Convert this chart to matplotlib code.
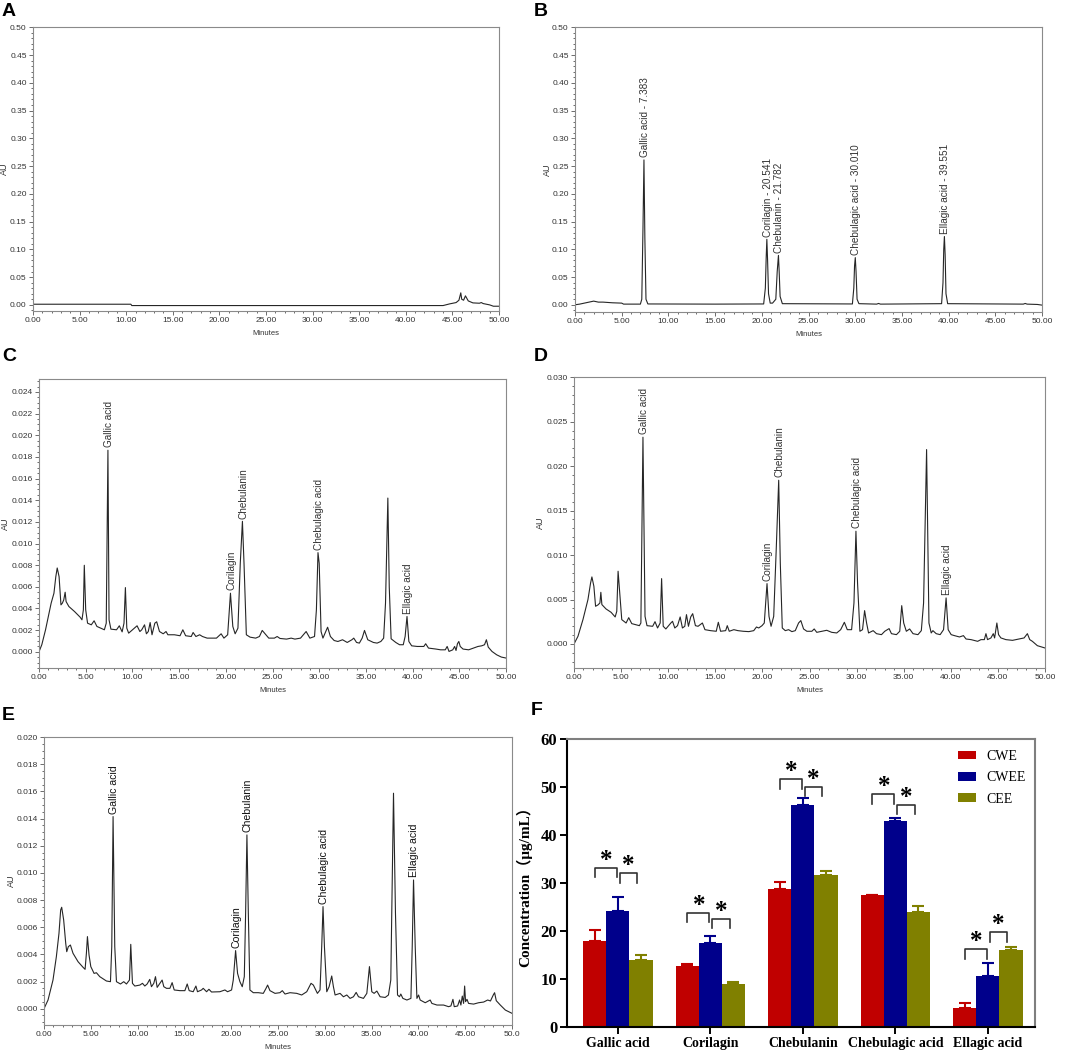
import matplotlib
matplotlib.use("Agg")
import matplotlib.pyplot as plt
from matplotlib.ticker import MultipleLocator, FormatStrFormatter
import numpy as np

plt.rcParams['font.family'] = ['Liberation Sans', 'DejaVu Sans']

# ---- HPLC traces: (minutes, mAU)
blank_trace = [(0, 1.2), (10.5, 1.2), (10.6, -1.2), (44.0, -1.2), (44.7, 1.8), (45.4, 4.2),
               (45.7, 8.4), (45.9, 21.7), (46.0, 10.2), (46.2, 8.4), (46.4, 16.3), (46.7, 7.2),
               (47.2, 3.6), (47.9, 3.0), (48.1, 4.2), (48.3, 2.4), (49.0, 0.0), (49.4, -2.4),
               (50.0, -2.4)]

std_trace = [(0, 0), (0.5, 1.2), (1.5, 4.8), (2.0, 6.6), (2.5, 4.8), (3.0, 4.8), (4.0, 3.6),
             (5.0, 3.0), (5.2, 1.2), (7.0, 1.2), (7.15, 10), (7.28, 140), (7.383, 261),
             (7.48, 120), (7.6, 10), (7.8, 1.5), (15.0, 1.2), (20.2, 1.5), (20.38, 30),
             (20.47, 85), (20.541, 118), (20.62, 80), (20.72, 20), (20.9, 3), (21.15, 3),
             (21.5, 10), (21.65, 60), (21.782, 89), (21.86, 60), (21.96, 15), (22.2, 2),
             (29.7, 1.5), (29.85, 30), (29.93, 70), (30.01, 85), (30.09, 60), (30.2, 10),
             (30.4, 2), (32.3, 1.2), (32.5, 2.4), (32.7, 1.2), (39.25, 2), (39.4, 40),
             (39.48, 100), (39.551, 123), (39.63, 90), (39.72, 20), (39.9, 2), (48.0, 1.2),
             (48.2, 2.4), (48.4, 1.2), (49.5, 0.6), (50.0, -0.6)]

cwe_trace = [(0, 0), (0.3, 0.65), (0.7, 2.03), (1.0, 3.26), (1.3, 4.49), (1.6, 5.41), (1.8, 6.94),
             (1.95, 7.74), (2.15, 6.94), (2.35, 4.33), (2.5, 4.49), (2.65, 4.79), (2.8, 5.50),
             (2.9, 4.64), (3.2, 4.18), (3.8, 3.72), (4.4, 3.20), (4.6, 2.95), (4.75, 3.87),
             (4.85, 7.99), (5.0, 3.87), (5.2, 2.64), (5.6, 2.49), (5.9, 2.86), (6.2, 2.34),
             (7.0, 2.03), (7.2, 2.64), (7.38, 18.62), (7.5, 2.95), (7.7, 2.09), (8.3, 2.03),
             (8.6, 2.40), (8.9, 1.84), (9.1, 2.64), (9.25, 5.93), (9.4, 2.18), (9.6, 1.72),
             (10.2, 2.18), (10.5, 2.40), (10.8, 1.87), (11.0, 2.03), (11.3, 2.49), (11.5, 1.66),
             (11.7, 1.87), (11.9, 2.70), (12.1, 1.57), (12.4, 2.64), (12.6, 2.77), (12.9, 1.87),
             (13.3, 1.66), (13.6, 1.87), (13.8, 1.57), (14.5, 1.57), (15.1, 1.48), (15.4, 2.03),
             (15.7, 1.48), (16.3, 1.41), (16.5, 1.78), (16.8, 1.41), (17.2, 1.57), (17.5, 1.41),
             (18.0, 1.26), (19.0, 1.26), (19.5, 1.66), (19.8, 1.26), (20.2, 1.57), (20.5, 5.41),
             (20.75, 2.34), (21.0, 1.66), (21.3, 2.18), (21.55, 8.17), (21.78, 12.05),
             (21.95, 8.17), (22.2, 1.57), (22.6, 1.35), (23.2, 1.26), (23.6, 1.41), (23.9, 1.97),
             (24.2, 1.66), (24.6, 1.26), (25.2, 1.26), (25.5, 1.41), (25.8, 1.23), (26.5, 1.17),
             (27.0, 1.26), (27.4, 1.17), (28.0, 1.26), (28.6, 1.87), (29.0, 1.26), (29.5, 1.41),
             (29.7, 3.87), (29.87, 9.16), (30.0, 8.17), (30.2, 1.87), (30.4, 1.26), (30.7, 1.87),
             (30.9, 2.27), (31.2, 1.41), (31.6, 1.04), (32.0, 0.95), (32.5, 1.11), (33.0, 0.86),
             (33.5, 1.11), (33.7, 1.26), (34.0, 0.86), (34.3, 0.80), (34.6, 1.26), (34.85, 1.97),
             (35.2, 1.11), (35.8, 0.86), (36.2, 0.80), (36.6, 0.95), (36.9, 1.26), (37.1, 4.49),
             (37.35, 14.20), (37.5, 6.0), (37.7, 1.2), (38.2, 0.86), (38.6, 0.65), (39.0, 0.65),
             (39.2, 1.41), (39.4, 3.26), (39.6, 0.95), (39.9, 0.55), (40.5, 0.49), (41.2, 0.49),
             (41.4, 0.74), (41.7, 0.34), (42.5, 0.25), (43.0, 0.18), (43.5, 0.18), (43.7, 0.49),
             (43.9, 0.03), (44.3, 0.18), (44.5, 0.49), (44.65, 0.12), (44.8, 0.74), (44.95, 0.95),
             (45.1, 0.49), (45.4, 0.25), (46.0, 0.18), (46.5, 0.34), (47.0, 0.49), (47.4, 0.55),
             (47.7, 0.65), (47.9, 1.11), (48.1, 0.43), (48.5, 0.03), (49.0, -0.28), (49.5, -0.49),
             (50.0, -0.58)]

cwee_trace = [(0, 0), (0.42, 0.86), (0.95, 2.74), (1.48, 4.99), (1.76, 6.86), (1.9, 7.54),
              (2.11, 6.49), (2.29, 4.24), (2.54, 4.39), (2.75, 4.61), (2.85, 5.81), (2.96, 4.43),
              (3.4, 3.94), (3.94, 3.56), (4.37, 3.04), (4.54, 3.67), (4.68, 8.18), (4.86, 5.74),
              (5.07, 2.74), (5.53, 2.36), (5.81, 2.96), (6.13, 2.29), (6.94, 2.06), (7.1, 2.36),
              (7.32, 23.25), (7.54, 3.11), (7.75, 2.06), (8.35, 1.99), (8.6, 2.51), (8.87, 1.80),
              (9.15, 2.36), (9.3, 7.35), (9.47, 1.99), (9.75, 1.69), (10.28, 2.36), (10.46, 2.55),
              (10.7, 1.80), (10.99, 2.06), (11.27, 3.04), (11.51, 1.80), (11.76, 1.99),
              (11.94, 3.30), (12.15, 1.99), (12.39, 3.04), (12.6, 3.41), (12.89, 2.06),
              (13.17, 1.99), (13.63, 2.36), (13.9, 1.61), (14.5, 1.50), (15.1, 1.43), (15.32, 2.44),
              (15.56, 1.43), (16.1, 1.50), (16.27, 2.06), (16.48, 1.43), (16.97, 1.61), (17.4, 1.50),
              (17.96, 1.43), (18.56, 1.39), (19.08, 1.50), (19.37, 1.91), (19.61, 1.80),
              (19.96, 2.06), (20.2, 2.36), (20.49, 6.79), (20.7, 3.11), (20.92, 1.99), (21.2, 3.11),
              (21.48, 10.99), (21.73, 18.41), (21.9, 9.11), (22.11, 1.80), (22.43, 1.50),
              (22.78, 1.61), (23.13, 1.39), (23.49, 1.50), (23.84, 2.36), (24.08, 2.63),
              (24.37, 1.69), (24.72, 1.43), (25.25, 1.43), (25.5, 1.69), (25.77, 1.31), (26.3, 1.43),
              (26.83, 1.54), (27.36, 1.31), (27.89, 1.24), (28.31, 1.61), (28.7, 2.44), (29.01, 1.61),
              (29.47, 1.61), (29.72, 4.61), (29.93, 12.68), (30.1, 6.86), (30.35, 1.43),
              (30.63, 1.61), (30.85, 3.75), (31.06, 2.36), (31.27, 1.24), (31.76, 1.50),
              (32.11, 1.16), (32.64, 1.05), (32.99, 1.43), (33.45, 1.73), (33.7, 1.16), (34.23, 1.05),
              (34.58, 1.43), (34.79, 4.31), (35.0, 2.36), (35.28, 1.43), (35.63, 1.69), (35.99, 1.16),
              (36.51, 1.05), (36.87, 1.50), (37.11, 4.61), (37.43, 21.86), (37.68, 2.36),
              (37.92, 1.24), (38.1, 1.50), (38.45, 1.16), (38.87, 1.05), (39.23, 1.61), (39.5, 5.18),
              (39.72, 1.61), (40.04, 1.05), (40.39, 0.94), (40.92, 0.79), (41.34, 0.94),
              (41.62, 0.56), (42.15, 0.49), (42.85, 0.30), (43.2, 0.49), (43.56, 0.49), (43.73, 1.16),
              (43.9, 0.49), (44.26, 0.68), (44.51, 1.16), (44.65, 0.68), (44.89, 2.36), (45.07, 1.05),
              (45.32, 0.68), (45.85, 0.49), (46.55, 0.41), (47.25, 0.56), (47.78, 0.68),
              (48.13, 1.16), (48.38, 0.49), (48.66, 0.30), (49.19, -0.19), (50.0, -0.45)]

cee_trace = [(0, 0), (0.43, 0.64), (0.96, 2.11), (1.32, 3.83), (1.6, 5.55), (1.78, 7.27),
             (1.89, 7.47), (2.1, 6.54), (2.32, 4.82), (2.43, 4.20), (2.6, 4.57), (2.82, 4.69),
             (3.1, 4.08), (3.64, 3.46), (4.17, 3.05), (4.39, 2.90), (4.53, 4.08), (4.64, 5.31),
             (4.81, 3.96), (5.0, 3.10), (5.35, 2.60), (5.6, 2.65), (5.96, 2.36), (6.67, 2.04),
             (7.1, 1.99), (7.24, 4.57), (7.38, 14.15), (7.56, 4.57), (7.74, 1.99), (8.17, 1.82),
             (8.52, 1.99), (8.81, 1.82), (9.13, 2.11), (9.27, 4.74), (9.45, 1.87), (9.7, 1.67),
             (10.24, 1.74), (10.52, 1.87), (10.77, 1.67), (11.02, 1.82), (11.3, 2.16), (11.48, 1.62),
             (11.73, 1.87), (11.91, 2.36), (12.09, 1.57), (12.38, 1.87), (12.62, 2.11), (12.8, 1.62),
             (13.09, 1.50), (13.45, 1.50), (13.69, 1.92), (13.91, 1.38), (14.52, 1.33),
             (15.05, 1.33), (15.3, 1.82), (15.51, 1.33), (15.94, 1.25), (16.23, 1.67), (16.4, 1.25),
             (16.83, 1.38), (17.01, 1.50), (17.37, 1.25), (17.62, 1.43), (17.9, 1.23), (18.79, 1.25),
             (19.33, 1.38), (19.61, 1.25), (20.04, 1.38), (20.22, 2.11), (20.47, 4.28),
             (20.68, 2.60), (20.93, 1.99), (21.18, 1.62), (21.4, 2.36), (21.54, 7.03),
             (21.68, 12.80), (21.83, 7.03), (22.0, 1.38), (22.36, 1.18), (22.9, 1.18), (23.43, 1.13),
             (23.72, 1.50), (23.89, 1.74), (24.14, 1.33), (24.68, 1.13), (25.21, 1.18),
             (25.46, 1.33), (25.75, 1.08), (26.28, 1.18), (27.0, 1.13), (27.53, 1.01), (28.07, 1.25),
             (28.53, 1.87), (28.78, 1.74), (29.21, 1.13), (29.49, 1.38), (29.67, 4.57),
             (29.81, 7.52), (29.96, 4.57), (30.21, 1.25), (30.46, 1.62), (30.74, 2.41),
             (30.92, 1.62), (31.1, 1.01), (31.63, 1.13), (31.99, 0.88), (32.35, 1.01), (32.7, 0.76),
             (33.06, 0.88), (33.35, 1.20), (33.6, 0.88), (34.13, 0.76), (34.49, 1.13), (34.77, 3.10),
             (35.02, 1.25), (35.27, 1.13), (35.56, 1.30), (35.91, 0.88), (36.45, 0.83), (36.8, 1.01),
             (37.05, 2.11), (37.34, 15.87), (37.55, 7.03), (37.77, 1.01), (37.98, 0.88),
             (38.12, 1.08), (38.34, 0.76), (38.77, 0.64), (39.2, 0.76), (39.34, 4.57), (39.48, 9.48),
             (39.66, 4.57), (39.84, 0.76), (40.02, 1.01), (40.19, 0.64), (40.73, 0.44),
             (41.26, 0.64), (41.44, 0.39), (41.98, 0.27), (42.69, 0.27), (43.22, 0.15),
             (43.47, 0.20), (43.69, 0.69), (43.83, 0.15), (44.19, 0.20), (44.4, 0.64), (44.54, 0.27),
             (44.69, 0.93), (44.83, 0.39), (44.94, 1.67), (45.04, 0.52), (45.19, 0.69),
             (45.36, 0.39), (45.9, 0.34), (46.43, 0.44), (46.97, 0.49), (47.4, 0.64), (47.7, 0.57),
             (48.0, 1.01), (48.14, 1.18), (48.32, 0.59), (48.75, 0.27), (49.29, -0.10),
             (50.0, -0.34)]

# peak labels: (text, retention time, apex mAU)
std_peaks = [("Gallic acid - 7.383", 7.383, 261), ("Corilagin - 20.541", 20.541, 118),
             ("Chebulanin - 21.782", 21.782, 89), ("Chebulagic acid - 30.010", 30.01, 85),
             ("Ellagic acid - 39.551", 39.551, 123)]
cwe_peaks = [("Gallic acid", 7.38, 18.62), ("Corilagin", 20.5, 5.41), ("Chebulanin", 21.78, 12.05),
             ("Chebulagic acid", 29.87, 9.16), ("Ellagic acid", 39.4, 3.26)]
cwee_peaks = [("Gallic acid", 7.32, 23.25), ("Corilagin", 20.49, 6.79), ("Chebulanin", 21.73, 18.41),
              ("Chebulagic acid", 29.93, 12.68), ("Ellagic acid", 39.5, 5.18)]
cee_peaks = [("Gallic acid", 7.38, 14.15), ("Corilagin", 20.47, 4.28), ("Chebulanin", 21.68, 12.8),
             ("Chebulagic acid", 29.81, 7.52), ("Ellagic acid", 39.48, 9.48)]

# ---- content of the five compounds (ug/mL), mean and SD
compounds = ['Gallic acid', 'Corilagin', 'Chebulanin', 'Chebulagic acid', 'Ellagic acid']
cwe = [17.9, 12.7, 28.8, 27.4, 3.9]
cwe_sd = [2.4, 0.4, 1.4, 0.2, 1.1]
cwee = [24.2, 17.5, 46.2, 42.9, 10.7]
cwee_sd = [2.9, 1.4, 1.5, 0.7, 2.7]
cee = [13.9, 9.05, 31.7, 24.0, 16.0]
cee_sd = [1.1, 0.25, 0.9, 1.3, 0.7]
# heights of the significance brackets (CWE-CWEE, CWEE-CEE)
bracket_left = [33.2, 23.8, 51.6, 48.5, 16.2]
bracket_right = [32.0, 22.6, 50.1, 46.3, 19.8]

W, H = 1065, 1053
fig = plt.figure(figsize=(W / 100, H / 100), dpi=100)


def px_axes(left, top, right, bottom):
    return fig.add_axes([left / W, 1 - bottom / H, (right - left) / W, (bottom - top) / H])


def panel_letter(x, y, s):
    fig.text(x / W, 1 - y / H, s, fontsize=14, fontweight='bold', ha='left', va='top')


def chromatogram(ax, trace, ylim, ymajor, yminor, yfmt, peaks, au_x, lab_size=7.2,
                 lab_color='#333333', last_tick=None):
    t = [p[0] for p in trace]
    au = [p[1] / 1000 for p in trace]
    ax.plot(t, au, color='#262626', lw=0.8)
    ax.set_xlim(0, 50)
    ax.set_ylim(*ylim)
    ax.xaxis.set_major_locator(MultipleLocator(5))
    ax.xaxis.set_minor_locator(MultipleLocator(1))
    ax.xaxis.set_major_formatter(FormatStrFormatter('%.2f'))
    ax.yaxis.set_major_locator(MultipleLocator(ymajor))
    ax.yaxis.set_minor_locator(MultipleLocator(yminor))
    ax.yaxis.set_major_formatter(FormatStrFormatter(yfmt))
    ax.tick_params(which='both', direction='out', colors='#555555', labelcolor='#333333',
                   labelsize=6, width=0.6, pad=1.5)
    ax.tick_params(which='major', length=3)
    ax.tick_params(which='minor', length=1.6)
    for sp in ax.spines.values():
        sp.set_color('#8a8a8a')
        sp.set_linewidth(0.8)
    ax.set_xlabel('Minutes', fontsize=5.5, color='#333333', labelpad=4)
    ax.set_ylabel('AU', fontsize=6.5, color='#333333')
    # the label anchor is its right-hand edge once rotated
    box = ax.get_position()
    ax.yaxis.set_label_coords((au_x / W - box.x0) / box.width, 0.5)
    for name, rt, h in peaks:
        ax.annotate(name, (rt, h / 1000), xytext=(0.5, 2), textcoords='offset points',
                    rotation=90, ha='center', va='bottom', fontsize=lab_size, color=lab_color)
    if last_tick:
        labels = ['%.2f' % v for v in np.arange(0, 50, 5)] + [last_tick]
        ax.set_xticks(np.arange(0, 51, 5))
        ax.set_xticklabels(labels)


axA = px_axes(33, 27, 499, 311)
chromatogram(axA, blank_trace, (-0.011, 0.5005), 0.05, 0.01, '%.2f', [], au_x=9)
axB = px_axes(575, 27, 1042, 312)
chromatogram(axB, std_trace, (-0.013, 0.5005), 0.05, 0.01, '%.2f', std_peaks, au_x=552)
axC = px_axes(39, 379, 506, 668)
chromatogram(axC, cwe_trace, (-0.0015, 0.0252), 0.002, 0.0005, '%.3f', cwe_peaks, au_x=10)
axD = px_axes(574, 377, 1045, 668)
chromatogram(axD, cwee_trace, (-0.0027, 0.03002), 0.005, 0.001, '%.3f', cwee_peaks, au_x=545)
axE = px_axes(44, 737, 512, 1025)
chromatogram(axE, cee_trace, (-0.0012, 0.02001), 0.002, 0.0005, '%.3f', cee_peaks, au_x=16,
             lab_size=7.6, lab_color='#111111', last_tick='50.0')

# ---- panel F: bar chart
serif = ['Liberation Serif', 'Noto Sans CJK SC']
axF = px_axes(567, 739, 1035, 1027)
x = np.arange(len(compounds))
w = 0.25
groups = [(cwe, cwe_sd, '#c00000', 'CWE'), (cwee, cwee_sd, '#00008b', 'CWEE'),
          (cee, cee_sd, '#808000', 'CEE')]
for i, (vals, sd, col, lab) in enumerate(groups):
    pos = x + (i - 1) * w
    axF.bar(pos, vals, w, color=col, label=lab, zorder=2)
    axF.errorbar(pos, vals, yerr=[np.zeros(len(sd)), sd], fmt='none', ecolor=col,
                 elinewidth=1.5, capsize=4, capthick=1.5, zorder=3)

leg = 2.0
for k in range(len(compounds)):
    xc = x[k]
    y1, y2 = bracket_left[k], bracket_right[k]
    axF.plot([xc - w, xc - w, xc - 0.01, xc - 0.01], [y1 - leg, y1, y1, y1 - leg],
             color='#333333', lw=1.2, zorder=4)
    axF.plot([xc + 0.02, xc + 0.02, xc + w - 0.04, xc + w - 0.04], [y2 - leg, y2, y2, y2 - leg],
             color='#333333', lw=1.2, zorder=4)
    axF.text(xc - w / 2, y1 + 0.2, '*', ha='center', va='baseline', fontsize=18,
             fontweight='bold', family=serif)
    axF.text(xc + w / 2 - 0.01, y2 + 0.2, '*', ha='center', va='baseline', fontsize=18,
             fontweight='bold', family=serif)

axF.set_xlim(-0.55, 4.51)
axF.set_ylim(0, 60)
axF.yaxis.set_major_locator(MultipleLocator(10))
axF.set_xticks(x)
axF.set_xticklabels(compounds, fontsize=10, fontweight='bold', family=serif)
for lbl in axF.get_yticklabels():
    lbl.set_fontsize(12)
    lbl.set_fontweight('bold')
    lbl.set_family(serif)
axF.tick_params(direction='out', length=5, width=1.4, pad=2)
axF.spines['left'].set_color('black')
axF.spines['bottom'].set_color('black')
axF.spines['top'].set_color('#7f7f7f')
axF.spines['right'].set_color('#7f7f7f')
for sp in axF.spines.values():
    sp.set_linewidth(1.5)
axF.set_ylabel('Concentration（μg/mL）', fontsize=11, fontweight='bold', family=serif,
               labelpad=6)
axF.legend(loc='upper right', bbox_to_anchor=(0.981, 0.962), frameon=False,
           prop={'family': serif, 'size': 10}, handlelength=1.3, handleheight=0.6,
           handletextpad=0.75, labelspacing=0.6, borderpad=0, borderaxespad=0)

panel_letter(2, 3, 'A')
panel_letter(534, 3, 'B')
panel_letter(2, 348, 'C')
panel_letter(534, 348, 'D')
panel_letter(2, 707, 'E')
panel_letter(531, 702, 'F')

fig.savefig('out.png', dpi=100)
